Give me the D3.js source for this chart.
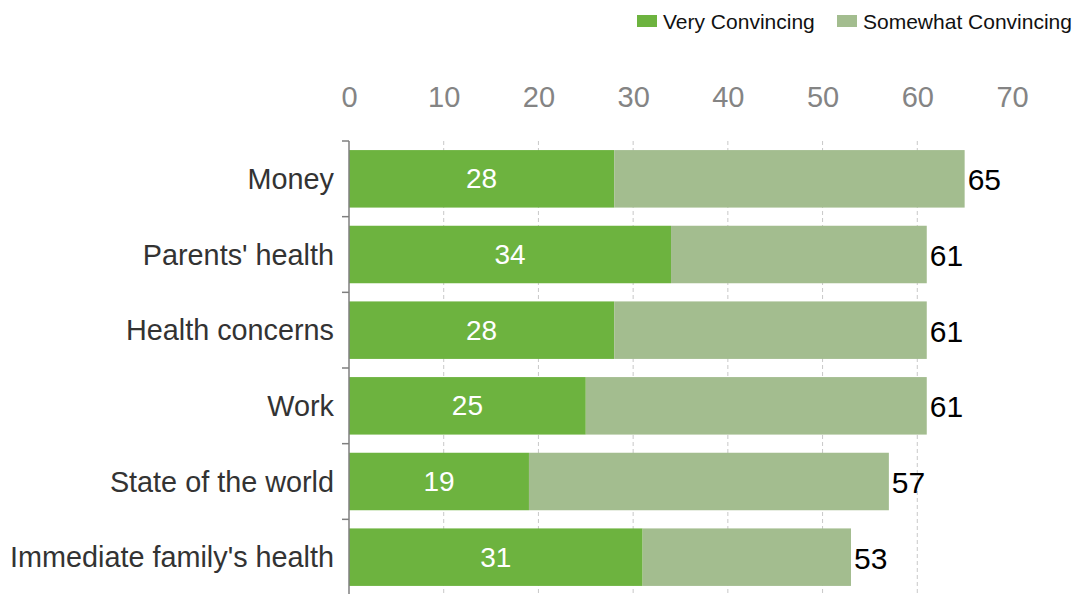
<!DOCTYPE html>
<html>
<head>
<meta charset="utf-8">
<script src="https://cdn.jsdelivr.net/npm/d3@7"></script>
<style>
  html, body { margin: 0; padding: 0; background: #fff; }
  svg { display: block; font-family: "Liberation Sans", Arial, sans-serif; }
</style>
</head>
<body>
<svg id="chart" width="1078" height="594"></svg>
<script>
// Reasons people found convincing (percent)
const categories = ["Money", "Parents' health", "Health concerns", "Work", "State of the world", "Immediate family's health"];
const veryConvincing = [28, 34, 28, 25, 19, 31];
const somewhatConvincing = [37, 27, 33, 36, 38, 22];
const totals = [65, 61, 61, 61, 57, 53];
const xTicks = [0, 10, 20, 30, 40, 50, 60, 70];
const seriesNames = ["Very Convincing", "Somewhat Convincing"];
const colors = ["#6db33f", "#a3bd8f"];

const svg = d3.select("#chart");
const plotLeft = 349, plotRight = 1012, plotTop = 141, plotBottom = 595;

const x = d3.scaleLinear().domain([0, 70]).range([plotLeft, plotRight]);
const y = d3.scaleBand().domain(categories).range([plotTop, plotBottom])
  .paddingInner(0.24).paddingOuter(0.12);

// dashed vertical gridlines (inner ticks only)
svg.append("g").selectAll("line")
  .data(xTicks.filter(t => t > 0 && t < 70))
  .join("line")
  .attr("x1", d => x(d)).attr("x2", d => x(d))
  .attr("y1", plotTop).attr("y2", plotBottom)
  .attr("stroke", "#c8c8c8").attr("stroke-width", 1)
  .attr("stroke-dasharray", "4,3");

// top axis tick labels
const xAxis = svg.append("g")
  .attr("transform", `translate(0,${plotTop - 34})`)
  .call(d3.axisTop(x).tickValues(xTicks).tickSize(0).tickPadding(0));
xAxis.select(".domain").remove();
xAxis.selectAll("text")
  .attr("font-size", 29).attr("fill", "#848484")
  .attr("font-family", "Liberation Sans, Arial, sans-serif");

// stacked bars
const rows = categories.map((c, i) => ({ c, i, v: veryConvincing[i], s: somewhatConvincing[i], t: totals[i] }));
const bars = svg.append("g");
bars.selectAll(".very").data(rows).join("rect")
  .attr("class", "very")
  .attr("x", x(0)).attr("y", d => y(d.c))
  .attr("width", d => x(d.v) - x(0)).attr("height", y.bandwidth())
  .attr("fill", colors[0]);
bars.selectAll(".some").data(rows).join("rect")
  .attr("class", "some")
  .attr("x", d => x(d.v)).attr("y", d => y(d.c))
  .attr("width", d => x(d.v + d.s) - x(d.v)).attr("height", y.bandwidth())
  .attr("fill", colors[1]);

// left category axis with ticks between bands
const boundaries = d3.range(categories.length + 1).map(i => plotTop + (plotBottom - plotTop) * i / categories.length);
const yAxis = svg.append("g");
yAxis.append("line")
  .attr("x1", plotLeft).attr("x2", plotLeft).attr("y1", plotTop).attr("y2", plotBottom)
  .attr("stroke", "#7f7f7f").attr("stroke-width", 1.5);
yAxis.selectAll(".tk").data(boundaries).join("line")
  .attr("class", "tk")
  .attr("x1", plotLeft - 7).attr("x2", plotLeft).attr("y1", d => d).attr("y2", d => d)
  .attr("stroke", "#7f7f7f").attr("stroke-width", 1.5);
yAxis.selectAll("text").data(categories).join("text")
  .attr("x", plotLeft - 15).attr("y", d => y(d) + y.bandwidth() / 2)
  .attr("text-anchor", "end").attr("dominant-baseline", "central")
  .attr("font-size", 28.8).attr("fill", "#333")
  .text(d => d);

// values inside the dark segment
svg.append("g").selectAll("text").data(rows).join("text")
  .attr("x", d => (x(0) + x(d.v)) / 2).attr("y", d => y(d.c) + y.bandwidth() / 2)
  .attr("text-anchor", "middle").attr("dominant-baseline", "central")
  .attr("font-size", 28).attr("fill", "#fff")
  .text(d => d.v);

// totals at bar ends
svg.append("g").selectAll("text").data(rows).join("text")
  .attr("x", d => x(d.t) + 3).attr("y", d => y(d.c) + y.bandwidth() / 2 + 1)
  .attr("text-anchor", "start").attr("dominant-baseline", "central")
  .attr("font-size", 30).attr("fill", "#000")
  .text(d => d.t);

// legend
const legend = svg.append("g").attr("transform", "translate(637,21)");
const legendX = [0, 200];
seriesNames.forEach((name, i) => {
  const g = legend.append("g").attr("transform", `translate(${legendX[i]},0)`);
  g.append("rect").attr("x", 0).attr("y", -6).attr("width", 20).attr("height", 12).attr("fill", colors[i]);
  g.append("text").attr("x", 26).attr("y", 0).attr("dominant-baseline", "central")
    .attr("font-size", 21).attr("fill", "#111").text(name);
});
</script>
</body>
</html>
